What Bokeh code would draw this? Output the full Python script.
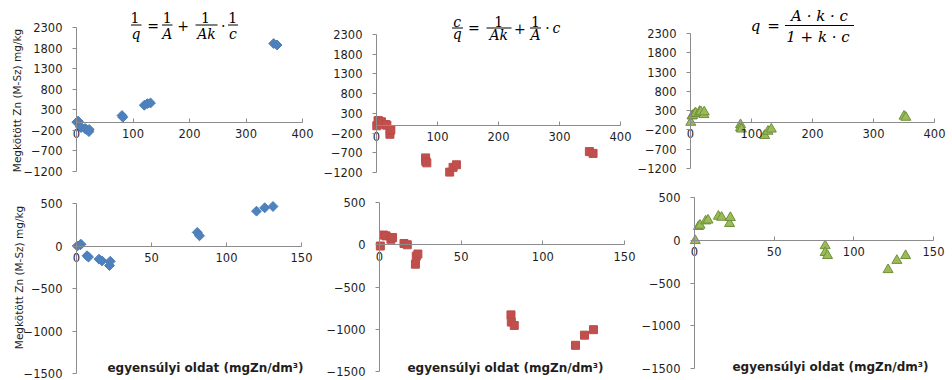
import numpy as np
from bokeh.plotting import figure
from bokeh.models import Range1d, FixedTicker, Label, Arrow, ColumnDataSource
from bokeh.layouts import column, row
from bokeh.embed import file_html
from bokeh.resources import INLINE

# ---------------- data ----------------
# series 1: 1/q = 1/A + 1/(Ak) * 1/c   (blue diamonds)
c_lin = [0.5, 2.5, 3.0, 7.0, 8.0, 15.0, 17.0, 22.0, 22.5, 80.5, 82.0, 120.0, 125.5, 131.0, 349.0, 355.0]
q_lin = [0, 15, 20, -115, -130, -155, -175, -230, -180, 160, 120, 410, 450, 465, 1910, 1875]

# series 2: c/q = 1/(Ak) + c/A   (red squares)
c_cq = [0.5, 2.5, 4.0, 7.0, 8.0, 15.0, 17.0, 22.0, 22.5, 23.5, 80.5, 80.7, 82.5, 120.0, 125.5, 131.0, 349.0, 355.0]
q_cq = [-15, 115, 105, 65, 85, 15, 0, -230, -135, -110, -830, -915, -955, -1190, -1070, -1005, -670, -715]

# series 3: q = A k c / (1 + k c)   (green triangles)
c_lang = [0.5, 2.5, 3.5, 7.0, 8.5, 15.0, 17.0, 22.0, 22.5, 82.0, 82.0, 83.5, 121.5, 127.0, 132.5, 350.0, 353.0]
q_lang = [-5, 160, 175, 225, 235, 280, 268, 195, 265, -65, -145, -180, -345, -237, -180, 155, 125]

x_ticks_full = [0, 100, 200, 300, 400]
y_ticks_full = [-1200, -700, -200, 300, 800, 1300, 1800, 2300]
x_ticks_zoom = [0, 50, 100, 150]
y_ticks_zoom = [-1500, -1000, -500, 0, 500]

x_title = "egyensúlyi oldat (mgZn/dm³)"
y_title = "Megkötött Zn (M-Sz) mg/kg"

# ---------------- layout geometry (page pixels) ----------------
# (offset_x, offset_y, width, height, axes-box left, right, top, bottom margins, xrange, yrange)
geo = {
    "p1": (0, 0, 318, 185, 76, 16, 27, 14, (0, 400), (-1200, 2300)),
    "p2": (318, 0, 318, 185, 58, 16, 34, 13, (0, 400), (-1200, 2300)),
    "p3": (636, 0, 316, 185, 54, 18, 33, 17, (0, 400), (-1200, 2300)),
    "p4": (0, 185, 318, 195, 76, 17, 18, 7, (0, 150), (-1500, 500)),
    "p5": (318, 185, 318, 195, 61, 12, 17, 9, (0, 150), (-1500, 500)),
    "p6": (636, 185, 316, 195, 58, 19, 12, 12, (0, 150), (-1500, 500)),
}

AX_COL = "#8C8C8C"
TXT_COL = "#1E1E1E"


def to_data(key, px, py):
    ox, oy, w, h, bl, br, bt, bb, xr, yr = geo[key]
    fl, fr = ox + bl, ox + w - br
    ft, fb = oy + bt, oy + h - bb
    x = xr[0] + (px - fl) / (fr - fl) * (xr[1] - xr[0])
    y = yr[1] - (py - ft) / (fb - ft) * (yr[1] - yr[0])
    return x, y


def make(key, xt, yt):
    ox, oy, w, h, bl, br, bt, bb, xr, yr = geo[key]
    # the whole canvas is the frame; ranges are widened so the axes box sits where it should
    x_lo, y_hi = to_data(key, ox, oy)
    x_hi, y_lo = to_data(key, ox + w, oy + h)
    p = figure(width=w, height=h, x_range=Range1d(x_lo, x_hi), y_range=Range1d(y_lo, y_hi),
               output_backend="svg", toolbar_location=None, title=None,
               min_border_left=0, min_border_right=0,
               min_border_top=0, min_border_bottom=0,
               background_fill_color="white", border_fill_color="white")
    p.outline_line_color = None
    p.xgrid.visible = False
    p.ygrid.visible = False
    ax = p.xaxis[0]
    ay = p.yaxis[0]
    ax.fixed_location = 0
    ay.fixed_location = 0
    ax.bounds = xr
    ay.bounds = yr
    ax.ticker = FixedTicker(ticks=xt)
    ay.ticker = FixedTicker(ticks=yt)
    for a in (ax, ay):
        a.axis_line_color = AX_COL
        a.major_tick_line_color = AX_COL
        a.minor_tick_line_color = None
        a.major_label_text_font = "DejaVu Sans"
        a.major_label_text_font_size = "11.5px"
        a.major_label_text_color = TXT_COL
    ax.major_tick_in = 4
    ax.major_tick_out = 0
    ax.major_label_standoff = 7
    ay.major_tick_in = 0
    ay.major_tick_out = 4
    ay.major_label_standoff = 10
    return p


def add_label(p, key, px, py, text, size="14px", font="DejaVu Serif", style="normal",
              angle=0.0, color="black"):
    x, y = to_data(key, px, py)
    p.add_layout(Label(x=x, y=y, text=text, text_font=font, text_font_size=size,
                       text_font_style=style, text_align="center", text_baseline="middle",
                       angle=angle, text_color=color))


def add_bar(p, key, px0, px1, py):
    x0, y0 = to_data(key, px0, py)
    x1, y1 = to_data(key, px1, py)
    p.add_layout(Arrow(end=None, x_start=x0, y_start=y0, x_end=x1, y_end=y1,
                       line_color="black", line_width=1))


def draw_series(p, c, q, kind):
    src = ColumnDataSource(dict(c=c, q=q))
    if kind == "blue":
        p.scatter(x="c", y="q", source=src, marker="square", angle=np.pi / 4, size=7,
                  fill_color="#4F81BD", line_color="#4A7EBB")
    elif kind == "red":
        p.scatter(x="c", y="q", source=src, marker="square", size=8,
                  fill_color="#C0504D", line_color="#BE4B48")
    else:
        p.scatter(x="c", y="q", source=src, marker="triangle", size=10,
                  fill_color="#9BBB59", line_color="#6F8F3A", line_width=1)


p1 = make("p1", x_ticks_full, y_ticks_full)
p2 = make("p2", x_ticks_full, y_ticks_full)
p3 = make("p3", x_ticks_full, y_ticks_full)
p4 = make("p4", x_ticks_zoom, y_ticks_zoom)
p5 = make("p5", x_ticks_zoom, y_ticks_zoom)
p6 = make("p6", x_ticks_zoom, y_ticks_zoom)

draw_series(p1, c_lin, q_lin, "blue")
draw_series(p4, c_lin, q_lin, "blue")
draw_series(p2, c_cq, q_cq, "red")
draw_series(p5, c_cq, q_cq, "red")
draw_series(p3, c_lang, q_lang, "green")
draw_series(p6, c_lang, q_lang, "green")

# y titles
add_label(p1, "p1", 16, 100, y_title, size="10.5px", font="DejaVu Sans", angle=np.pi / 2, color=TXT_COL)
add_label(p4, "p4", 18, 277, y_title, size="10.5px", font="DejaVu Sans", angle=np.pi / 2, color=TXT_COL)

# x titles
add_label(p4, "p4", 205, 367, x_title, size="12px", font="DejaVu Sans", style="bold", color=TXT_COL)
add_label(p5, "p5", 505, 367, x_title, size="12px", font="DejaVu Sans", style="bold", color=TXT_COL)
add_label(p6, "p6", 830, 366, x_title, size="12px", font="DejaVu Sans", style="bold", color=TXT_COL)

# equation 1: 1/q = 1/A + 1/(Ak) . 1/c
add_label(p1, "p1", 134.5, 16.5, "1")
add_label(p1, "p1", 135.5, 33, "q", style="italic")
add_bar(p1, "p1", 130.5, 141, 24.5)
add_label(p1, "p1", 152.5, 25, "=")
add_label(p1, "p1", 166.7, 16.5, "1")
add_label(p1, "p1", 166.7, 33, "A", style="italic")
add_bar(p1, "p1", 161.5, 172, 24.5)
add_label(p1, "p1", 182.7, 25, "+")
add_label(p1, "p1", 205, 16.5, "1")
add_label(p1, "p1", 206, 33, "Ak", style="italic")
add_bar(p1, "p1", 195, 217, 24.5)
add_label(p1, "p1", 222.7, 25, "·")
add_label(p1, "p1", 232.3, 16.5, "1")
add_label(p1, "p1", 232.3, 33, "c", style="italic")
add_bar(p1, "p1", 227.5, 237.5, 24.5)

# equation 2: c/q = 1/(Ak) + 1/A . c
add_label(p2, "p2", 456.7, 21.5, "c", style="italic")
add_label(p2, "p2", 456.7, 33.5, "q", style="italic")
add_bar(p2, "p2", 451.5, 462.5, 27.5)
add_label(p2, "p2", 473.3, 27.5, "=")
add_label(p2, "p2", 498.3, 21, "1")
add_label(p2, "p2", 498.3, 34, "Ak", style="italic")
add_bar(p2, "p2", 486, 511, 27.5)
add_label(p2, "p2", 519.3, 27.5, "+")
add_label(p2, "p2", 535, 21, "1")
add_label(p2, "p2", 535, 34, "A", style="italic")
add_bar(p2, "p2", 529.5, 540.5, 27.5)
add_label(p2, "p2", 547, 27.5, "·")
add_label(p2, "p2", 556, 27, "c", style="italic")

# equation 3: q = A k c / (1 + k c)
add_label(p3, "p3", 755, 25, "q", style="italic", size="15px")
add_label(p3, "p3", 773, 25, "=", size="15px")
add_label(p3, "p3", 819, 15, "A · k · c", style="italic", size="15px")
add_bar(p3, "p3", 784.5, 853.5, 25)
add_label(p3, "p3", 817.5, 36, "1 + k · c", style="italic", size="15px")

layout = column(row(p1, p2, p3), row(p4, p5, p6))
open("out.html", "w").write(file_html(layout, INLINE))
